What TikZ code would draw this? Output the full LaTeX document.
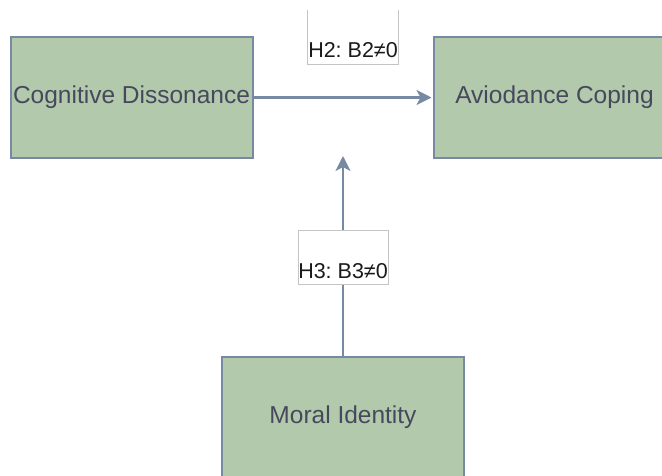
\documentclass[tikz,border=0pt]{standalone}
\usepackage{fontspec}
\setmainfont{Liberation Sans}
\usetikzlibrary{arrows.meta}
\frenchspacing
\definecolor{boxfill}{HTML}{B2C9AB}
\definecolor{boxline}{HTML}{788AA3}
\definecolor{boxtext}{HTML}{46495D}
\definecolor{lblline}{HTML}{C4C4C4}
\definecolor{lbltext}{HTML}{1A1A1A}
\tikzset{
  varbox/.style={draw=boxline, line width=2pt, fill=boxfill, text=boxtext,
    minimum width=242pt, minimum height=121pt, inner sep=0pt,
    font=\fontsize{24.5}{29}\selectfont},
  lblbox/.style={fill=white, minimum width=90pt, minimum height=54pt, inner sep=0pt},
  lbltxt/.style={text=lbltext, inner sep=0pt, font=\fontsize{21.5}{25}\selectfont},
  conn/.style={draw=boxline, line width=2.2pt, -{Stealth[length=15pt, width=15pt, inset=4pt]}}
}
\begin{document}
\begin{tikzpicture}[x=1pt, y=-1pt]
\useasboundingbox (0,0) rectangle (662,475);
\clip (0,0) rectangle (662,475);
\node[varbox] (cd) at (131.5,97.5) {Cognitive Dissonance};
\node[varbox] (ac) at (554.5,97.5) {Aviodance Coping};
\node[varbox] (mi) at (343,417.5) {Moral Identity};
\coordinate (vtip) at (343,156);
\draw[conn, shorten >=1pt] (cd.east) -- (ac.west);
\draw[conn] (mi.north) -- (vtip);
% H2 label (top edge open)
\node[lblbox] (h2) at (353,37) {};
\draw[lblline, line width=1pt] (h2.north west) -- (h2.south west) -- (h2.south east) -- (h2.north east);
\node[lbltxt] (h2t) at (353,50) {H2: B2≠0};
% H3 label
\node[lblbox, draw=lblline, line width=1pt] (h3) at (343,257) {};
\node[lbltxt] (h3t) at (343,271) {H3: B3≠0};
\end{tikzpicture}
\end{document}
